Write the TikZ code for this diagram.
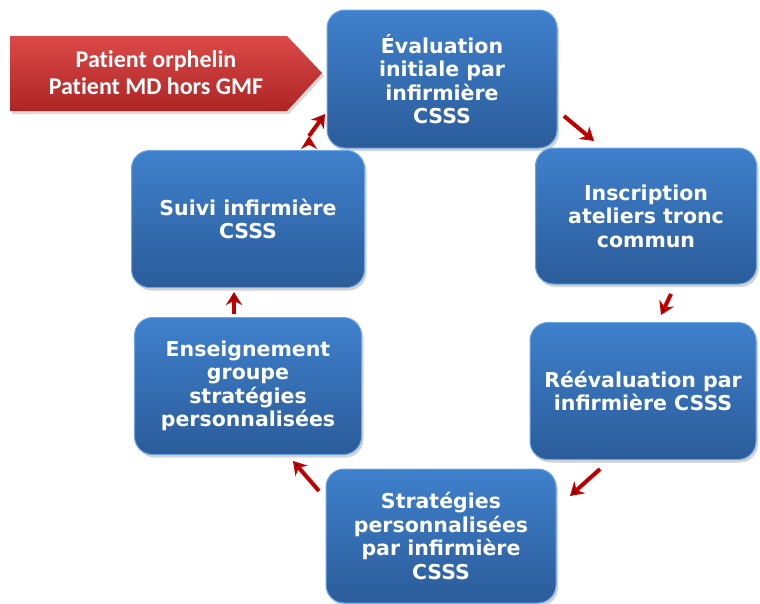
\documentclass[tikz,border=0pt]{standalone}
\usepackage{fontspec}
\setmainfont{DejaVu Sans}
\newfontfamily\arrowfont[Ligatures=NoCommon]{Carlito}
\usetikzlibrary{arrows.meta, shadows}

\definecolor{boxtop}{HTML}{3F80CC}
\definecolor{boxbot}{HTML}{2B5C9A}
\definecolor{boxrim}{HTML}{6AA6E6}
\definecolor{redtop}{HTML}{DB4A48}
\definecolor{redbot}{HTML}{AE2426}
\definecolor{flowred}{HTML}{C00000}

\tikzset{
  etape/.style={rectangle, rounded corners=18pt, top color=boxtop, bottom color=boxbot,
    draw=boxrim, line width=1pt, text=white, align=center,
    font=\fontsize{20.5}{23.5}\selectfont\bfseries,
    drop shadow={opacity=0.35, shadow xshift=2pt, shadow yshift=-3pt}},
  flow/.style={-{Stealth[length=13pt,width=16pt]}, draw=flowred, line width=4pt},
}

\begin{document}
\begin{tikzpicture}[x=1pt,y=-1pt]
    \useasboundingbox (0,0) rectangle (760,603);

    % entry arrow
    \path[top color=redtop, bottom color=redbot, drop shadow={opacity=0.3, shadow xshift=2pt, shadow yshift=-3pt}]
        (10,36) -- (287,36) -- (322,73) -- (287,111) -- (10,111) -- cycle;
    \node[text=white, align=center, font=\arrowfont\fontsize{24}{27}\selectfont\bfseries] (patient) at (156,73)
        {Patient orphelin\\Patient MD hors GMF};

    % cycle
    \node[etape, minimum width=230pt, minimum height=138pt] (1) at (442,79) {Évaluation\\initiale par\\infirmière\\CSSS};
    \node[etape, minimum width=221pt, minimum height=136pt] (2) at (646,216) {Inscription\\ateliers tronc\\commun};
    \node[etape, minimum width=226pt, minimum height=137pt] (3) at (643,391) {Réévaluation par\\infirmière CSSS};
    \node[etape, minimum width=230pt, minimum height=134pt] (4) at (441,536) {Stratégies\\personnalisées\\par infirmière\\CSSS};
    \node[etape, minimum width=227pt, minimum height=137pt] (5) at (248,386) {Enseignement\\groupe\\stratégies\\personnalisées};
    \node[etape, minimum width=233pt, minimum height=137pt] (6) at (248,219) {Suivi infirmière\\CSSS};

    \coordinate (a1) at (564,116); \coordinate (b1) at (594,141);
    \coordinate (a2) at (671,294); \coordinate (b2) at (661,315);
    \coordinate (a3) at (600,469); \coordinate (b3) at (570,496);
    \coordinate (a4) at (319,491); \coordinate (b4) at (293,461);
    \coordinate (a5) at (234,314); \coordinate (b5) at (234,292);
    \coordinate (a6) at (309,136); \coordinate (b6) at (325,114);

    \path[flow]
    (a1) edge (b1)
    (a2) edge (b2)
    (a3) edge (b3)
    (a4) edge (b4)
    (a5) edge (b5)
    (a6) edge (b6)
    ;
\end{tikzpicture}
\end{document}
